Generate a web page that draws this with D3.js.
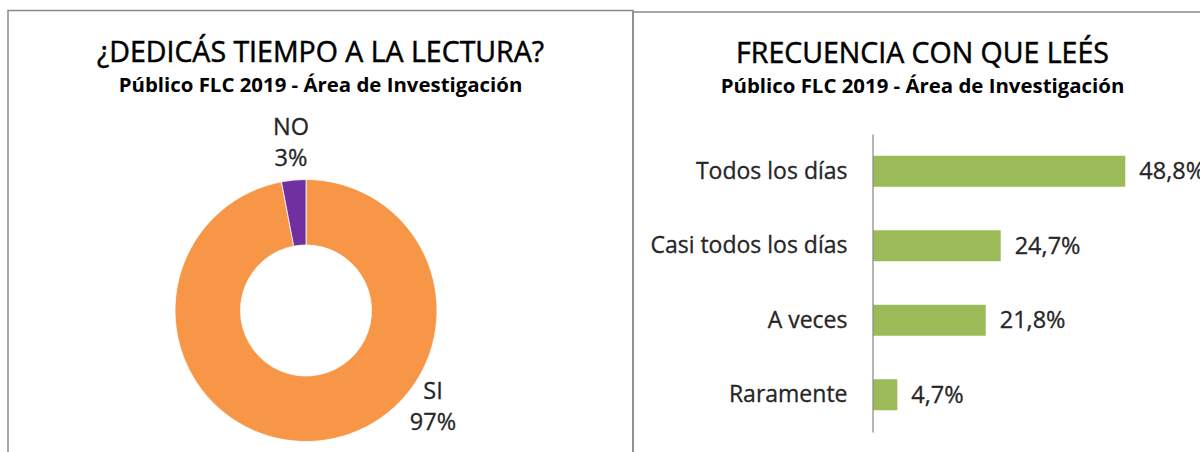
<!DOCTYPE html>
<html>
<head>
<meta charset="utf-8">
<script src="https://cdn.jsdelivr.net/npm/d3@7"></script>
<style>
  body { margin: 0; background: #fff; }
  text { font-family: "Open Sans", sans-serif; }
</style>
</head>
<body>
<div id="chart"></div>
<script>
// Data
const pieLabels = ["SI", "NO"];
const pieValues = [97, 3];
const freqCategories = ["Todos los días", "Casi todos los días", "A veces", "Raramente"];
const freqValues = [48.8, 24.7, 21.8, 4.7];

const width = 1200;
const height = 452;

const svg = d3.select("#chart")
    .append("svg")
    .attr("width", width)
    .attr("height", height);

// Panel borders
svg.append("rect")
    .attr("x", 8).attr("y", 10.5)
    .attr("width", 625).attr("height", 460)
    .attr("fill", "none")
    .attr("stroke", "#8a8a8a")
    .attr("stroke-width", 1.5);

svg.append("rect")
    .attr("x", 633).attr("y", 12)
    .attr("width", 590).attr("height", 460)
    .attr("fill", "none")
    .attr("stroke", "#8a8a8a")
    .attr("stroke-width", 1.5);

// Titles
function titles(cx, title, y1, y2) {
    svg.append("text")
        .attr("x", cx).attr("y", y1)
        .attr("text-anchor", "middle")
        .style("font-size", "28.5px")
        .style("fill", "#000")
        .style("stroke", "#000")
        .style("stroke-width", 0.5)
        .text(title);
    svg.append("text")
        .attr("x", cx).attr("y", y2)
        .attr("text-anchor", "middle")
        .style("font-size", "20.4px")
        .style("font-weight", "bold")
        .style("fill", "#000")
        .text("Público FLC 2019 - Área de Investigación");
}
titles(320.5, "¿DEDICÁS TIEMPO A LA LECTURA?", 62, 92);
titles(922.5, "FRECUENCIA CON QUE LEÉS", 63, 93);

// Donut
const pieColors = ["#F79646", "#7030A0"];
const cx = 306, cy = 310.5;
const outerR = 131, innerR = 65.5;

const pie = d3.pie().sort(null).value(d => d)(pieValues);
const arc = d3.arc().innerRadius(innerR).outerRadius(outerR);

const donut = svg.append("g").attr("transform", `translate(${cx},${cy})`);

donut.selectAll("path")
    .data(pie)
    .enter()
    .append("path")
    .attr("d", arc)
    .attr("fill", (d, i) => pieColors[i])
    .attr("stroke", "#fff")
    .attr("stroke-width", 0.8);

// label placement offsets (best-fit like the original)
const labelOffsets = [[127, 92], [-15, -172]];

const pieText = donut.selectAll("text.pl")
    .data(pie)
    .enter()
    .append("text")
    .attr("class", "pl")
    .attr("text-anchor", "middle")
    .attr("transform", (d, i) => `translate(${labelOffsets[i][0]},${labelOffsets[i][1]})`)
    .style("font-size", "23.5px")
    .style("fill", "#262626")
    .style("stroke", "#262626")
    .style("stroke-width", 0.3);

pieText.append("tspan")
    .attr("x", 0).attr("dy", "-0.15em")
    .text((d, i) => pieLabels[i]);
pieText.append("tspan")
    .attr("x", 0).attr("dy", "1.33em")
    .text(d => d.value + "%");

// Bars
const locale = d3.formatLocale({ decimal: ",", thousands: ".", grouping: [3], currency: ["", "€"] });
const fmt = locale.format(".1f");

const x = d3.scaleLinear().domain([0, 50]).range([873, 873 + 258.5]);
const y = d3.scaleBand()
    .domain(freqCategories)
    .range([134, 432])
    .paddingInner(0.584)
    .paddingOuter(0.292);

svg.selectAll("rect.bar")
    .data(freqValues)
    .enter()
    .append("rect")
    .attr("class", "bar")
    .attr("x", x(0))
    .attr("y", (d, i) => y(freqCategories[i]))
    .attr("width", d => x(d) - x(0))
    .attr("height", y.bandwidth())
    .attr("fill", "#9BBB59");

const yAxis = svg.append("g")
    .attr("transform", `translate(${x(0) - 0.5},0)`)
    .call(d3.axisLeft(y).tickSize(0).tickPadding(25));

yAxis.select(".domain")
    .attr("stroke", "#868686")
    .attr("stroke-width", 1.2);
yAxis.selectAll("text")
    .style("font-family", "'Open Sans', sans-serif")
    .style("font-size", "23px")
    .style("fill", "#262626")
    .style("stroke", "#262626")
    .style("stroke-width", 0.3);

svg.selectAll("text.val")
    .data(freqValues)
    .enter()
    .append("text")
    .attr("class", "val")
    .attr("x", d => x(d) + 14)
    .attr("y", (d, i) => y(freqCategories[i]) + y.bandwidth() / 2)
    .attr("dy", "0.35em")
    .style("font-size", "23.5px")
    .style("fill", "#262626")
    .style("stroke", "#262626")
    .style("stroke-width", 0.3)
    .text(d => fmt(d) + "%");
</script>
</body>
</html>
